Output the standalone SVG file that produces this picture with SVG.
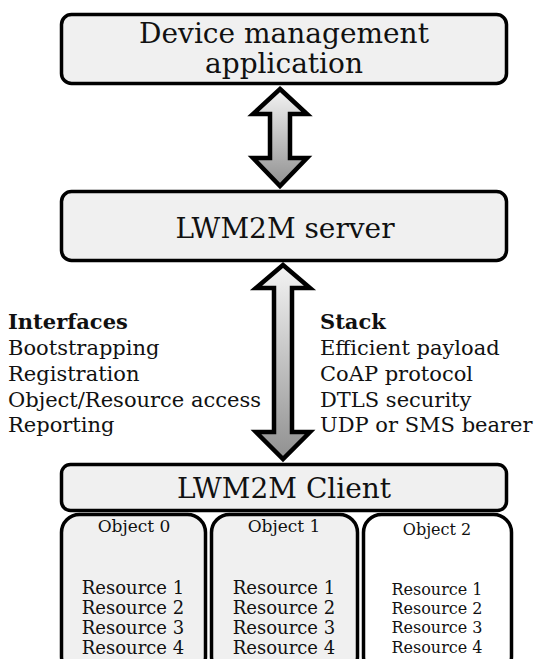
<svg xmlns="http://www.w3.org/2000/svg" width="536" height="659" viewBox="0 0 536 659">
<defs>
<linearGradient id="ag" x1="0" y1="0" x2="0" y2="1">
<stop offset="0" stop-color="#f4f4f4"/>
<stop offset="1" stop-color="#909090"/>
</linearGradient>
<style>
.box{fill:#f0f0f0;stroke:#000;stroke-width:3.5}
.obj{stroke:#000;stroke-width:3.5}
.t{font-family:"DejaVu Serif",serif;fill:#111}
.big{font-size:28px;text-anchor:middle}
.side{font-size:21px}
.ol{font-size:18px;text-anchor:middle}
.ot{font-size:17px;text-anchor:middle}
.o2{font-size:16px;text-anchor:middle}
.arr{fill:url(#ag);stroke:#000;stroke-width:4.5;stroke-linejoin:miter}
</style>
</defs>
<rect width="536" height="659" fill="#fff"/>
<g id="connectors">
<polygon class="arr" points="280,89 307,114 290,114 290,158 307,158 280,186 253,158 270,158 270,114 253,114"/>
<polygon class="arr" points="283,265 310,288 292,288 292,432 310,432 283,459 256,432 274,432 274,288 256,288"/>
</g>
<g id="device-management">
<rect class="box" x="61.5" y="14.5" width="445" height="69" rx="10"/>
<text class="t big" x="284" y="43">Device management</text>
<text class="t big" x="284" y="73">application</text>
</g>
<g id="server">
<rect class="box" x="61.5" y="191.5" width="445" height="69" rx="10"/>
<text class="t big" x="285" y="238">LWM2M server</text>
</g>
<g id="interfaces">
<text class="t side" x="8" y="329" font-weight="bold">Interfaces</text>
<text class="t side" x="8" y="355">Bootstrapping</text>
<text class="t side" x="8" y="381">Registration</text>
<text class="t side" x="8" y="407">Object/Resource access</text>
<text class="t side" x="8" y="432">Reporting</text>
</g>
<g id="stack">
<text class="t side" x="320" y="329" font-weight="bold">Stack</text>
<text class="t side" x="320" y="355">Efficient payload</text>
<text class="t side" x="320" y="381">CoAP protocol</text>
<text class="t side" x="320" y="407">DTLS security</text>
<text class="t side" x="320" y="432">UDP or SMS bearer</text>
</g>
<g id="client">
<rect class="box" x="61.5" y="464.5" width="445" height="46" rx="9"/>
<text class="t big" x="284" y="498">LWM2M Client</text>
</g>
<g id="object0">
<rect class="obj" fill="#f0f0f0" x="61.5" y="514.5" width="144" height="160" rx="18"/>
<text class="t ot" x="134" y="532">Object 0</text>
<text class="t ol" x="133" y="594">Resource 1</text>
<text class="t ol" x="133" y="614">Resource 2</text>
<text class="t ol" x="133" y="634">Resource 3</text>
<text class="t ol" x="133" y="654">Resource 4</text>
</g>
<g id="object1">
<rect class="obj" fill="#f0f0f0" x="211.5" y="514.5" width="146" height="160" rx="18"/>
<text class="t ot" x="284" y="532">Object 1</text>
<text class="t ol" x="284" y="594">Resource 1</text>
<text class="t ol" x="284" y="614">Resource 2</text>
<text class="t ol" x="284" y="634">Resource 3</text>
<text class="t ol" x="284" y="654">Resource 4</text>
</g>
<g id="object2">
<rect class="obj" fill="#fff" x="363.5" y="514.5" width="148" height="160" rx="18"/>
<text class="t o2" x="437" y="535">Object 2</text>
<text class="t o2" x="437" y="595">Resource 1</text>
<text class="t o2" x="437" y="614">Resource 2</text>
<text class="t o2" x="437" y="633">Resource 3</text>
<text class="t o2" x="437" y="653">Resource 4</text>
</g>
</svg>
